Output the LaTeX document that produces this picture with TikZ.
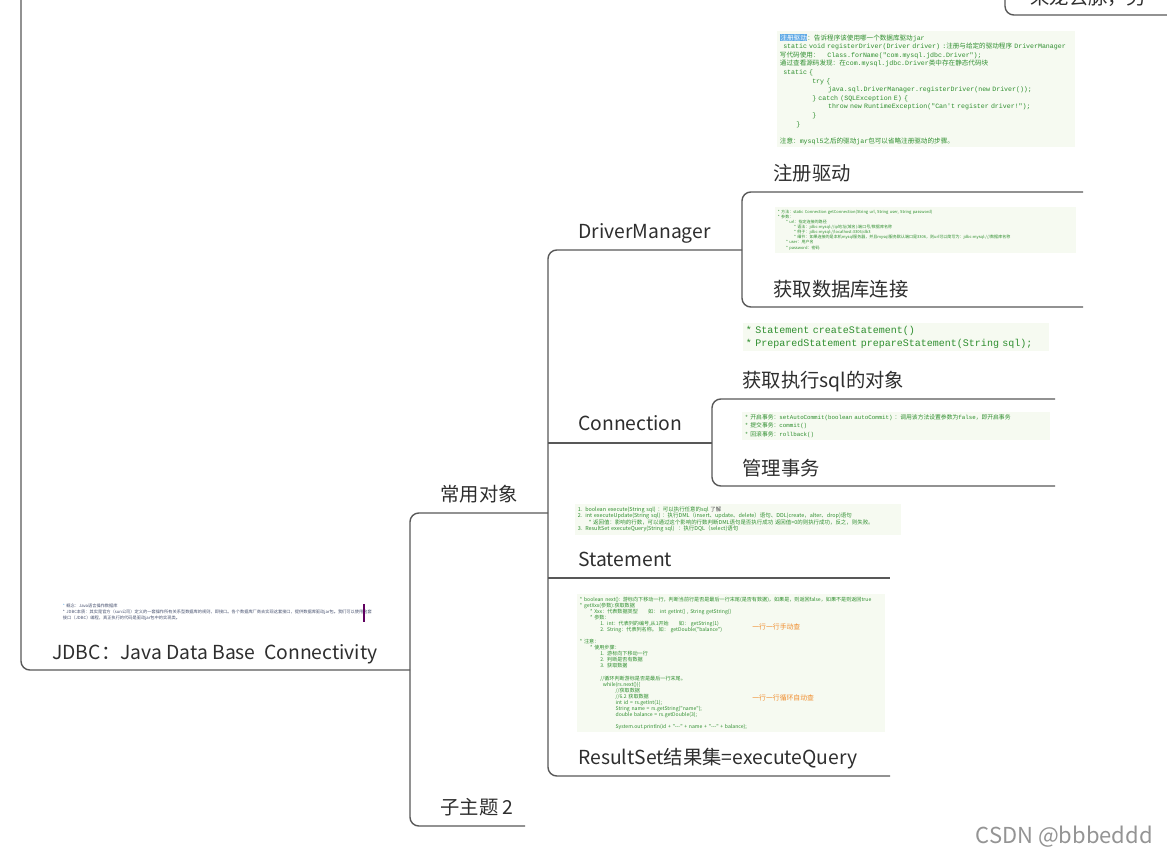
\documentclass[tikz,border=0pt]{standalone}
\usepackage{fontspec}
\setmainfont{Noto Sans CJK SC}
\newfontfamily\zh{Noto Sans CJK SC}
\setmonofont{Liberation Mono}
\usetikzlibrary{positioning}

\definecolor{branchgray}{RGB}{88,88,88}
\definecolor{notebg}{RGB}{246,250,241}
\definecolor{codegreen}{RGB}{46,142,46}
\definecolor{marker}{RGB}{240,138,40}
\definecolor{hlblue}{RGB}{95,170,230}
\definecolor{notegray}{RGB}{70,80,110}

\begin{document}
\begin{tikzpicture}[
  x=0.02cm, y=-0.02cm,
  branch/.style={draw=branchgray, line width=0.8pt, rounded corners=5pt},
  topic/.style={anchor=base west, inner sep=0pt, font=\fontsize{11}{13}\selectfont, text=black!82},
  notebox/.style={anchor=north west, fill=notebg, inner sep=1.5pt, align=left, text=codegreen},
  markup/.style={anchor=west, inner sep=0pt, text=marker, font=\zh\fontsize{3.9}{4.5}\selectfont},
  watermark/.style={anchor=base east, inner sep=0pt, font=\fontsize{12.5}{15}\selectfont, text=black!42}
]
  \fill[white] (0,0) rectangle (1167,855);
  \useasboundingbox (0,0) rectangle (1167,855);

  \draw[branch] (21,-20) |- (410,670);
  \draw[branch] (1005,-30) |- (1190,15);
  \node[topic] (lmqm) at (1030,5) {来龙去脉，另};

  \node[notebox, fill=white, text=notegray, text width=6.0cm, font=\zh\fontsize{2.4}{3.3}\selectfont] (jdbcnote) at (60,601) {%
    {\color{hlblue}*} 概念：Java语言操作数据库\\
    {*} JDBC本质：其实是官方（sun公司）定义的一套操作所有关系型数据库的规则，即接口。各个数据库厂商去实现这套接口，提供数据库驱动jar包。我们可以使用这套\\
    接口（JDBC）编程，真正执行的代码是驱动jar包中的实现类。};
  \draw[draw=violet!75!black, line width=1pt] (364,604) -- (364,622);
  \node[topic] (jdbc) at (52,659) {JDBC：Java Data Base\ \ Connectivity};

  \draw[branch] (548,513) -- (410,513) |- (525,826);
  \node[topic] (cyds) at (440,501) {常用对象};
  \node[topic] (zzt) at (440,814) {子主题 2};

  \draw[branch] (742,250) -- (548,250) |- (890,776);
  \draw[branch] (548,443) -- (712,443);
  \draw[branch] (548,578) -- (890,578);
  \node[topic] (dm) at (578,238) {DriverManager};
  \node[topic] (conn) at (578,430) {Connection};
  \node[topic] (stmt) at (578,566) {Statement};
  \node[topic] (rs) at (578,764) {ResultSet结果集=executeQuery};

  \draw[branch] (1083,192) -- (742,192) |- (1083,307);
  \node[notebox, text width=5.85cm, font=\ttfamily\fontsize{3.75}{4.9}\selectfont] (zcqdnote) at (777,31) {%
    {\zh\setlength{\fboxsep}{0.3pt}\colorbox{hlblue}{\textcolor{white}{注册驱动}}：告诉程序该使用哪一个数据库驱动}jar\\
    \hspace*{0.5em}static void registerDriver(Driver driver) :{\zh 注册与给定的驱动程序} DriverManager\\
    {\zh 写代码使用：}\hspace*{1.2em}Class.forName("com.mysql.jdbc.Driver");\\
    {\zh 通过查看源码发现：在}com.mysql.jdbc.Driver{\zh 类中存在静态代码块}\\
    \hspace*{0.5em}static \{\\
    \hspace*{4.9em}try \{\\
    \hspace*{7.3em}java.sql.DriverManager.registerDriver(new Driver());\\
    \hspace*{4.9em}\} catch (SQLException E) \{\\
    \hspace*{7.3em}throw new RuntimeException("Can't register driver!");\\
    \hspace*{4.9em}\}\\
    \hspace*{2.5em}\}\\[4.9pt]
    {\zh 注意：}mysql5{\zh 之后的驱动}jar{\zh 包可以省略注册驱动的步骤。}};
  \node[topic] (zcqd) at (773,180) {注册驱动};
  \node[notebox, text width=5.9cm, font=\zh\fontsize{2.3}{2.9}\selectfont] (hqljnote) at (775,207) {%
    {*} 方法：static Connection getConnection(String url, String user, String password)\\
    {*} 参数：\\
    \hspace*{2em}* url：指定连接的路径\\
    \hspace*{4em}* 语法：jdbc:mysql://ip地址(域名):端口号/数据库名称\\
    \hspace*{4em}* 例子：jdbc:mysql://localhost:3306/db3\\
    \hspace*{4em}* 细节：如果连接的是本机mysql服务器，并且mysql服务默认端口是3306，则url可以简写为：jdbc:mysql:///数据库名称\\
    \hspace*{2em}* user：用户名\\
    \hspace*{2em}* password：密码};
  \node[topic] (hqlj) at (773,296) {获取数据库连接};

  \draw[branch] (1055,399) -- (712,399) |- (1055,486);
  \node[notebox, text width=6.0cm, font=\ttfamily\fontsize{5.7}{7.4}\selectfont] (hqdxnote) at (743,323) {%
    {*} Statement createStatement()\\
    {*} PreparedStatement prepareStatement(String sql);};
  \node[topic] (hqdx) at (742,387) {获取执行sql的对象};
  \node[notebox, text width=6.05cm, font=\ttfamily\fontsize{3.3}{4.6}\selectfont] (glswnote) at (742,412) {%
    {*} {\zh 开启事务：}setAutoCommit(boolean autoCommit) {\zh ：调用该方法设置参数为}false{\zh ，即开启事务}\\
    {*} {\zh 提交事务：}commit()\\
    {*} {\zh 回滚事务：}rollback()};
  \node[topic] (glsw) at (742,475) {管理事务};

  \node[notebox, text width=6.4cm, font=\zh\fontsize{3.1}{3.6}\selectfont] (stmtnote) at (575,504) {%
    1. boolean execute(String sql) ：可以执行任意的sql {\color{black!70}了解}\\
    2. int executeUpdate(String sql) ：执行DML（insert、update、delete）语句、DDL(create，alter、drop)语句\\
    \hspace*{2em}* 返回值：影响的行数，可以通过这个影响的行数判断DML语句是否执行成功 返回值>0的则执行成功，反之，则失败。\\
    3. ResultSet executeQuery(String sql)\ \ ：执行DQL（select)语句};

  \node[notebox, text width=6.05cm, font=\zh\fontsize{2.9}{3.45}\selectfont] (rsnote) at (577,594) {%
    {*} boolean next(): 游标向下移动一行，判断当前行是否是最后一行末尾(是否有数据)，如果是，则返回false，如果不是则返回true\\
    {*} getXxx(参数):获取数据\\
    \hspace*{2em}* Xxx：代表数据类型\hspace*{2em}如： int getInt() , String getString()\\
    \hspace*{2em}* 参数：\\
    \hspace*{4em}1. int：代表列的编号,从1开始\hspace*{2em}如： getString(1)\\
    \hspace*{4em}2. String：代表列名称。 如： getDouble("balance")\\[3.45pt]
    {*} 注意：\\
    \hspace*{2em}* 使用步骤：\\
    \hspace*{4em}1. 游标向下移动一行\\
    \hspace*{4em}2. 判断是否有数据\\
    \hspace*{4em}3. 获取数据\\[3.45pt]
    \hspace*{4em}//循环判断游标是否是最后一行末尾。\\
    \hspace*{4.5em}while(rs.next())\{\\
    \hspace*{7em}//获取数据\\
    \hspace*{7em}//6.2 获取数据\\
    \hspace*{7em}int id = rs.getInt(1);\\
    \hspace*{7em}String name = rs.getString("name");\\
    \hspace*{7em}double balance = rs.getDouble(3);\\[3.45pt]
    \hspace*{7em}System.out.println(id + "-{}-{}-" + name + "-{}-{}-" + balance);};
  \node[markup] (sdc) at (752,627) {一行一行手动查};
  \node[markup] (zdc) at (752,698) {一行一行循环自动查};

  \node[watermark] (mark) at (1153,843) {CSDN @bbbeddd};
\end{tikzpicture}
\end{document}
